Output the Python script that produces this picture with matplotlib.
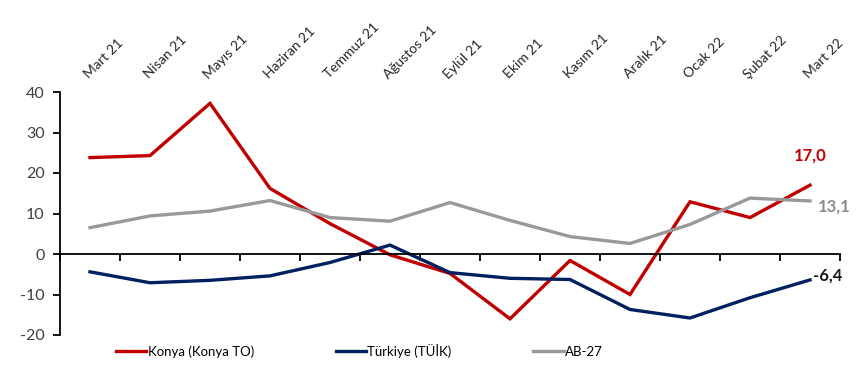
import numpy as np
import matplotlib
matplotlib.use('Agg')
import matplotlib.pyplot as plt
from matplotlib.ticker import FixedLocator

months = ['Mart 21', 'Nisan 21', 'Mayıs 21', 'Haziran 21', 'Temmuz 21', 'Ağustos 21',
          'Eylül 21', 'Ekim 21', 'Kasım 21', 'Aralık 21', 'Ocak 22', 'Şubat 22', 'Mart 22']
konya = [23.8, 24.3, 37.2, 16.2, 7.5, -0.2, -4.8, -16.0, -1.6, -10.0, 12.9, 9.0, 17.0]
turkiye = [-4.4, -7.1, -6.5, -5.4, -2.1, 2.2, -4.6, -6.0, -6.3, -13.7, -15.8, -10.8, -6.4]
ab27 = [6.5, 9.4, 10.6, 13.2, 9.0, 8.1, 12.7, 8.3, 4.3, 2.6, 7.3, 13.8, 13.1]
yticks = [-20, -10, 0, 10, 20, 30, 40]

plt.rcParams['font.family'] = ['Lato', 'DejaVu Sans']

RED = '#C00000'
NAVY = '#002060'
GRAY = '#999999'
TXT = '#404040'

fig = plt.figure(figsize=(8.57, 3.76), dpi=100)
ax = fig.add_axes([60 / 857, 1 - 335 / 376, 780 / 857, 243 / 376])

x = np.arange(len(months))
ax.plot(x, konya, color=RED, lw=2.4, label='Konya (Konya TO)', solid_joinstyle='miter')
ax.plot(x, turkiye, color=NAVY, lw=2.4, label='Türkiye (TÜİK)', solid_joinstyle='miter')
ax.plot(x, ab27, color=GRAY, lw=2.4, label='AB-27', solid_joinstyle='miter')

ax.set_xlim(-0.5, len(months) - 0.5)
ax.set_ylim(-20, 40)
ax.set_yticks(yticks)
ax.set_yticklabels([str(v) for v in yticks], fontsize=11.5, color=TXT)

ax.spines['top'].set_visible(False)
ax.spines['right'].set_visible(False)
ax.spines['bottom'].set_position(('data', 0))
ax.spines['left'].set_linewidth(1.3)
ax.spines['bottom'].set_linewidth(1.3)

ax.set_xticks(x)
ax.xaxis.set_minor_locator(FixedLocator(np.arange(len(months) + 1) - 0.5))
ax.set_xticklabels(months, fontsize=10, color='#262626', rotation=45,
                   ha='left', va='bottom', rotation_mode='anchor')
ax.tick_params(axis='x', which='major', length=0, bottom=False, top=False,
               labelbottom=False, labeltop=True, pad=8)
ax.tick_params(axis='x', which='minor', bottom=True, length=5, width=1.3, direction='out')
ax.tick_params(axis='y', length=5, width=1.3, direction='out', pad=6)

last = len(months) - 1
ax.annotate(f"{konya[-1]:.1f}".replace('.', ','), (last, konya[-1]), xytext=(0, 18),
            textcoords='offset points', color=RED, fontsize=12, fontweight='bold', ha='center')
ax.annotate(f"{ab27[-1]:.1f}".replace('.', ','), (last, ab27[-1]), xytext=(6, -4),
            textcoords='offset points', color='#8c8c8c', fontsize=12, fontweight='bold',
            ha='left', va='center')
ax.annotate(f"{turkiye[-1]:.1f}".replace('.', ','), (last, turkiye[-1]), xytext=(2, 3),
            textcoords='offset points', color='#1a1a1a', fontsize=12, fontweight='bold',
            ha='left', va='center')

fig.legend(loc='center left', bbox_to_anchor=(116 / 857, 1 - 351 / 376), ncol=3,
           frameon=False, fontsize=9.5, handlelength=2.3, handletextpad=0.1,
           columnspacing=6.2, borderaxespad=0, borderpad=0)

plt.savefig('out.png', dpi=100)
plt.close()
